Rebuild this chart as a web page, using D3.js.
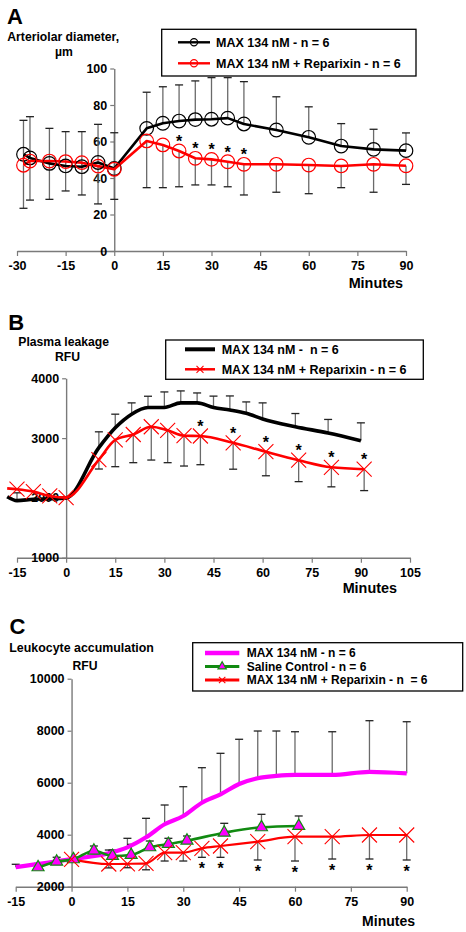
<!DOCTYPE html>
<html><head><meta charset="utf-8">
<script src="https://cdn.jsdelivr.net/npm/d3@7"></script>
<style>
body{margin:0;background:#fff}
svg{display:block}
text{font-family:"Liberation Sans",Arial,Helvetica,sans-serif;font-weight:bold;fill:#000;white-space:pre}
</style>
</head><body>
<svg id="c" width="466" height="932"></svg>
<script>
// ---------- Panel A : Arteriolar diameter (µm) ----------
const aTime   = [-28, -26, -20, -15, -10, -5, 0, 10, 15, 20, 25, 30, 35, 40, 50, 60, 70, 80, 90];
const aMax    = [53, 51, 48, 46.6, 46.2, 48.5, 45.2, 67.2, 70, 71.2, 72, 72.2, 72.8, 69.6, 66.3, 62.3, 57.5, 55.7, 55];
const aMaxSD  = [18.6, 22.6, 19.2, 18.8, 19.2, 20.9, 19.6, 19.8, 20, 19.8, 21.2, 22.8, 22.2, 23.2, 18.2, 16.7, 12.3, 11, 9.7];
const aRep    = [47, 49.3, 49.3, 49, 48.4, 46.5, 44.8, 60.3, 58.1, 54.8, 50.8, 50.2, 48.9, 47.5, 47.5, 47.1, 46.6, 47.5, 46.7];
const aRepSD  = [23.6, 21.4, 21, 16.1, 17.7, 20.7, 16.5, 25.6, 23.4, 19.6, 14.6, 14, 13.7, 16.8, 15.3, 15.7, 11.9, 15.3, 10.2];
const aStars  = [20, 25, 30, 35, 40];
const aXTicks = [-30, -15, 0, 15, 30, 45, 60, 75, 90];
const aYTicks = [0, 20, 40, 60, 80, 100];
const aLegend = ["MAX 134 nM - n = 6", "MAX 134 nM + Reparixin - n = 6"];

// ---------- Panel B : Plasma leakage (RFU) ----------
const bMaxTime = [-18, -15, -10, -5, 0, 10, 15, 20, 25, 30, 35, 40, 45, 50, 55, 60, 70, 80, 90];
const bMax     = [2020, 1955, 1978, 1985, 2000, 2840, 3172, 3400, 3512, 3512, 3589, 3589, 3512, 3470, 3415, 3320, 3190, 3085, 2955];
const bMaxSD   = [0, 130, 0, 0, 0, 265, 228, 189, 188, 260, 200, 166, 190, 235, 190, 269, 221, 227, 300];
const bRepTime = [-18, -15, -10, -5, 0, 10, 15, 20.5, 26, 31, 36, 41, 51, 61, 71, 81, 91];
const bRep     = [2160, 2145, 2105, 2033, 2005, 2640, 2970, 3060, 3190, 3130, 3040, 3035, 2922, 2772, 2630, 2512, 2480];
const bRepSD   = [0, 0, 0, 0, 0, 157, 448, 471, 557, 541, 507, 480, 442, 402, 358, 327, 358];
const bStars   = [41, 51, 61, 71, 81, 91];
const bXTicks  = [-15, 0, 15, 30, 45, 60, 75, 90, 105];
const bYTicks  = [1000, 2000, 3000, 4000];
const bLegend  = ["MAX 134 nM -  n = 6", "MAX 134 nM + Reparixin - n = 6"];

// ---------- Panel C : Leukocyte accumulation (RFU) ----------
const cMaxTime = [-15, 0, 10, 15, 20, 25, 30, 35, 40, 45, 50, 55, 60, 70, 80, 90];
const cMax     = [2750, 3060, 3290, 3515, 3900, 4400, 4720, 5230, 5553, 5950, 6170, 6260, 6300, 6300, 6420, 6360];
const cMaxSD   = [112, 0, 121, 346, 730, 742, 1126, 1347, 1577, 1720, 1818, 1728, 1660, 1660, 1965, 1985];
const cSalTime = [-9, -4, 0.5, 6, 11, 16, 21, 26, 31, 41, 51, 61];
const cSal     = [2746, 2962, 3054, 3385, 3181, 3219, 3515, 3642, 3769, 4077, 4285, 4335];
const cSalSD   = [150, 170, 0, 180, 230, 411, 242, 219, 181, 361, 499, 385];
const cRepTime = [0, 10, 15, 20, 25, 30, 35, 40, 50, 60, 70, 80, 90];
const cRep     = [3054, 2873, 2880, 2900, 3308, 3308, 3477, 3565, 3731, 3923, 3923, 3988, 3988];
const cRepSD   = [0, 150, 150, 250, 320, 320, 347, 435, 704, 935, 858, 923, 961];
const cStars   = [35, 40, 50, 60, 70, 80, 90];
const cXTicks  = [-15, 0, 15, 30, 45, 60, 75, 90];
const cYTicks  = [2000, 4000, 6000, 8000, 10000];
const cLegend  = ["MAX 134 nM - n = 6", "Saline Control - n = 6", "MAX 134 nM + Reparixin - n  = 6"];

const RED = "#ff0000", BLACK = "#000000", MAG = "#ff00ff", GREEN = "#118a11";
const AXIS = "#7a7a7a", STEM = "#6a6a6a", CAP = "#222";

const svg = d3.select("#c");
const fmt = d => String(d);   // plain hyphen-minus, as in the original

function drawMarker(g, type, color, cx, cy, s) {
  if (type === "circle") {
    g.append("circle").attr("cx", cx).attr("cy", cy).attr("r", s)
      .attr("fill", "none").attr("stroke", color).attr("stroke-width", 1.2);
  } else if (type === "x") {
    g.append("path").attr("transform", `translate(${cx},${cy})`)
      .attr("d", `M${-s},${-s}L${s},${s}M${-s},${s}L${s},${-s}`)
      .attr("stroke", color).attr("stroke-width", 1.1).attr("fill", "none");
  } else if (type === "tri") {
    g.append("path").attr("transform", `translate(${cx},${cy})`)
      .attr("d", d3.symbol().type(d3.symbolTriangle).size(s)())
      .attr("fill", MAG).attr("stroke", GREEN).attr("stroke-width", 1.2);
  }
}

function panel(cfg) {
  const g = svg.append("g");
  const x = d3.scaleLinear(cfg.xDom, cfg.xRange);
  const y = d3.scaleLinear(cfg.yDom, cfg.yRange);

  // axes
  const xa = g.append("g").attr("transform", `translate(0,${y(cfg.yDom[0])})`)
    .call(d3.axisBottom(x).tickValues(cfg.xTicks).tickSize(5).tickSizeOuter(0).tickPadding(5).tickFormat(fmt));
  const ya = g.append("g").attr("transform", `translate(${x(0)},0)`)
    .call(d3.axisLeft(y).tickValues(cfg.yTicks).tickSize(4).tickSizeOuter(0).tickPadding(3).tickFormat(fmt));
  [xa, ya].forEach(a => {
    a.select(".domain").attr("stroke", AXIS).attr("stroke-width", 1.4);
    a.selectAll(".tick line").attr("stroke", AXIS).attr("stroke-width", 1.2);
    a.selectAll(".tick text").style("font-size", "12.5px").style("font-family", '"Liberation Sans",Arial,sans-serif').style("font-weight", "bold").attr("fill", "#000");
  });

  // error bars
  cfg.series.forEach(s => {
    s.t.forEach((t, i) => {
      const sd = s.sd[i];
      if (!sd) return;
      const v = s.v[i];
      const end = v + s.dir * sd;
      g.append("line").attr("x1", x(t)).attr("x2", x(t)).attr("y1", y(v)).attr("y2", y(end))
        .attr("stroke", STEM).attr("stroke-width", 1.3);
      g.append("line").attr("x1", x(t) - 4).attr("x2", x(t) + 4).attr("y1", y(end)).attr("y2", y(end))
        .attr("stroke", CAP).attr("stroke-width", 1.3);
    });
  });

  // lines
  cfg.series.forEach(s => {
    const pts = s.t.map((t, i) => [x(t), y(s.v[i])]);
    g.append("path").attr("d", d3.line().curve(s.curve || d3.curveLinear)(pts))
      .attr("fill", "none").attr("stroke", s.color).attr("stroke-width", s.width)
      .attr("stroke-linejoin", "round");
  });

  // markers
  cfg.series.forEach(s => {
    if (!s.marker) return;
    s.t.forEach((t, i) => {
      if (t < cfg.xDom[0]) return;
      drawMarker(g, s.marker, s.color, x(t), y(s.v[i]), s.msize);
    });
  });

  // significance stars
  const st = cfg.star;
  st.times.forEach(t => {
    const i = st.series.t.indexOf(t);
    const v = st.series.v[i];
    let cy;
    if (st.mode === "above") cy = y(v) - 13;
    else cy = y(v - st.series.sd[i]) + 8;
    g.append("text").attr("x", x(t)).attr("y", cy + 9).attr("text-anchor", "middle")
      .style("font-size", "16px").text("*");
  });

  // titles
  cfg.texts.forEach(tx => {
    g.append("text").attr("x", tx.x).attr("y", tx.y).attr("text-anchor", tx.anchor || "start")
      .style("font-size", tx.size + "px").text(tx.text);
  });

  // legend
  const L = cfg.legend;
  g.append("rect").attr("x", L.x).attr("y", L.y).attr("width", L.w).attr("height", L.h)
    .attr("fill", "#fff").attr("stroke", "#000").attr("stroke-width", 1.3);
  L.items.forEach((it, k) => {
    const yy = L.rows[k];
    g.append("line").attr("x1", L.lx0).attr("x2", L.lx1).attr("y1", yy).attr("y2", yy)
      .attr("stroke", it.color).attr("stroke-width", it.width);
    if (it.marker) drawMarker(g, it.marker, it.color, (L.lx0 + L.lx1) / 2, yy, it.msize);
    g.append("text").attr("x", L.tx).attr("y", yy + L.fs * 0.36).style("font-size", L.fs + "px").text(it.label);
  });
}

// ---------- Panel A ----------
const aBlack = {t: aTime, v: aMax, sd: aMaxSD, dir: 1, color: BLACK, width: 2.6, marker: "circle", msize: 6.8};
const aRed   = {t: aTime, v: aRep, sd: aRepSD, dir: -1, color: RED, width: 2.6, marker: "circle", msize: 6.8};
panel({
  xDom: [-30, 90], xRange: [17, 406], yDom: [0, 100], yRange: [251, 68.5],
  xTicks: aXTicks, yTicks: aYTicks,
  series: [aBlack, aRed],
  star: {series: aRed, times: aStars, mode: "above"},
  texts: [
    {x: 7, y: 24, size: 22, text: "A"},
    {x: 7.3, y: 41, size: 12.2, text: "Arteriolar diameter,"},
    {x: 64, y: 55.5, size: 12.2, text: "µm", anchor: "middle"},
    {x: 403, y: 287.5, size: 14.4, text: "Minutes", anchor: "end"}
  ],
  legend: {x: 161.7, y: 29.3, w: 254.3, h: 46.7, lx0: 178, lx1: 210, tx: 216, fs: 12.5, rows: [42.3, 63.3],
    items: [
      {label: aLegend[0], color: BLACK, width: 2.4, marker: "circle", msize: 3.6},
      {label: aLegend[1], color: RED, width: 2.4, marker: "circle", msize: 3.6}
    ]}
});

// ---------- Panel B ----------
const bBlack = {t: bMaxTime, v: bMax, sd: bMaxSD, dir: 1, color: BLACK, width: 3.6, curve: d3.curveMonotoneX};
const bRed   = {t: bRepTime, v: bRep, sd: bRepSD, dir: -1, color: RED, width: 2.6, curve: d3.curveMonotoneX, marker: "x", msize: 7.5};
panel({
  xDom: [-15, 105], xRange: [17, 410], yDom: [1000, 4000], yRange: [557.7, 378.3],
  xTicks: bXTicks, yTicks: bYTicks,
  series: [bBlack, bRed],
  star: {series: bRed, times: bStars, mode: "above"},
  texts: [
    {x: 8.3, y: 330, size: 22, text: "B"},
    {x: 18.3, y: 346, size: 12.2, text: "Plasma leakage"},
    {x: 67.5, y: 361, size: 12.2, text: "RFU", anchor: "middle"},
    {x: 397, y: 592.7, size: 14.4, text: "Minutes", anchor: "end"}
  ],
  legend: {x: 165.7, y: 340, w: 257.6, h: 39.3, lx0: 185, lx1: 215, tx: 221.7, fs: 12.5, rows: [349.3, 369.3],
    items: [
      {label: bLegend[0], color: BLACK, width: 4},
      {label: bLegend[1], color: RED, width: 2.5, marker: "x", msize: 3.5}
    ]}
});

// ---------- Panel C ----------
const cMag   = {t: cMaxTime, v: cMax, sd: cMaxSD, dir: 1, color: MAG, width: 4.2, curve: d3.curveMonotoneX};
const cGreen = {t: cSalTime, v: cSal, sd: cSalSD, dir: 1, color: GREEN, width: 2.6, curve: d3.curveMonotoneX, marker: "tri", msize: 62};
const cRed   = {t: cRepTime, v: cRep, sd: cRepSD, dir: -1, color: RED, width: 2.2, curve: d3.curveMonotoneX, marker: "x", msize: 7.5};
panel({
  xDom: [-15, 90], xRange: [15.7, 406.7], yDom: [2000, 10000], yRange: [886.7, 678.7],
  xTicks: cXTicks, yTicks: cYTicks,
  series: [cMag, cGreen, cRed],
  star: {series: cRed, times: cStars, mode: "below"},
  texts: [
    {x: 9.5, y: 634, size: 22, text: "C"},
    {x: 9.3, y: 651.5, size: 12.4, text: "Leukocyte accumulation"},
    {x: 85, y: 670, size: 12.2, text: "RFU", anchor: "middle"},
    {x: 415, y: 926, size: 14, text: "Minutes", anchor: "end"}
  ],
  legend: {x: 192.7, y: 642.7, w: 270, h: 48.3, lx0: 205, lx1: 239.3, tx: 246.7, fs: 12, rows: [653, 666.5, 680],
    items: [
      {label: cLegend[0], color: MAG, width: 4.5},
      {label: cLegend[1], color: GREEN, width: 3, marker: "tri", msize: 30},
      {label: cLegend[2], color: RED, width: 3, marker: "x", msize: 3.2}
    ]}
});
</script>
</body></html>
